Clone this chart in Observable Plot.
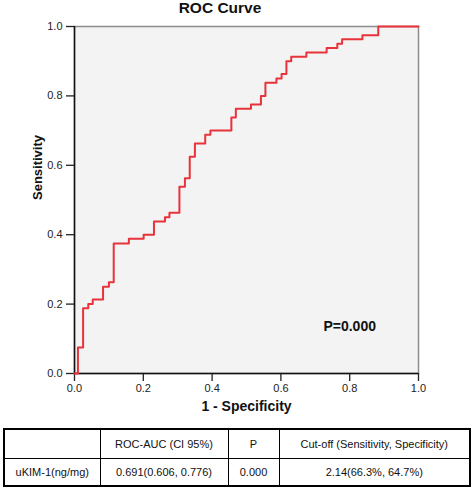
<!DOCTYPE html>
<html><head><meta charset="utf-8">
<script src="https://cdn.jsdelivr.net/npm/d3@7"></script>
<script src="https://cdn.jsdelivr.net/npm/@observablehq/plot@0.6"></script>
<style>
body{margin:0;background:#fff;font-family:"Liberation Sans",Arial,sans-serif;position:relative;width:472px;height:491px;overflow:hidden;}
#title{width:440px;height:20px;line-height:16px;text-align:center;font-weight:bold;font-size:15.5px;color:#111;}
#chart svg{display:block;}
table{position:absolute;left:3px;top:428px;border-collapse:collapse;width:466px;font-size:11px;color:#111;table-layout:fixed;border:2px solid #000;}
td{border:1px solid #000;text-align:center;padding:0;white-space:nowrap;}
tr.h td{height:28px;}
tr.r td{height:26px;}
</style></head><body>
<div id="title">ROC Curve</div>
<div id="chart"></div>
<table id="tbl"></table>
<script>
const fpr = [0, 0.010, 0.025, 0.040, 0.053, 0.083, 0.100, 0.114, 0.158, 0.201, 0.231, 0.263, 0.276, 0.305, 0.321, 0.335, 0.350, 0.380, 0.395, 0.456, 0.469, 0.513, 0.542, 0.555, 0.587, 0.602, 0.616, 0.630, 0.674, 0.733, 0.764, 0.778, 0.837, 0.883, 1.0];
const tpr = [0, 0.075, 0.188, 0.200, 0.213, 0.250, 0.263, 0.375, 0.388, 0.400, 0.438, 0.450, 0.463, 0.538, 0.563, 0.625, 0.663, 0.688, 0.700, 0.738, 0.763, 0.775, 0.800, 0.838, 0.850, 0.863, 0.900, 0.913, 0.925, 0.938, 0.950, 0.963, 0.975, 1.0, 1.0];
const xTicks = [0, 0.2, 0.4, 0.6, 0.8, 1.0];
const yTicks = [0, 0.2, 0.4, 0.6, 0.8, 1.0];
const xTitle = "1 - Specificity";
const yTitle = "Sensitivity";
const pText = "P=0.000";
const tableHeader = ["", "ROC-AUC (CI 95%)", "P", "Cut-off (Sensitivity, Specificity)"];
const tableRow = ["uKIM-1(ng/mg)", "0.691(0.606, 0.776)", "0.000", "2.14(66.3%, 64.7%)"];
const colWidths = [96, 128, 51, 191];

const pts = fpr.map((x, i) => ({fpr: x, tpr: tpr[i]}));
const fmt = d3.format(".1f");

const chart = Plot.plot({
  width: 472, height: 404,
  marginTop: 6, marginLeft: 74, marginRight: 54, marginBottom: 51,
  x: {domain: [0, 1]},
  y: {domain: [0, 1]},
  style: {fontFamily: "'Liberation Sans', Arial, sans-serif", fontSize: "11px", color: "#222", background: "transparent"},
  marks: [
    Plot.frame({fill: "#f3f3f3", stroke: "#8c8c8c", strokeWidth: 1.5}),
    Plot.axisX({ticks: xTicks, tickSize: 8, tickPadding: 3, tickFormat: fmt, label: null, strokeWidth: 1.3}),
    Plot.axisY({ticks: yTicks, tickSize: 8, tickPadding: 4, tickFormat: fmt, label: null, strokeWidth: 1.3}),
    Plot.ruleX([0], {stroke: "#111", strokeWidth: 1.5}),
    Plot.ruleY([0], {stroke: "#111", strokeWidth: 1.5}),
    Plot.line(pts, {x: "fpr", y: "tpr", curve: "step-after", stroke: "#e8333b", strokeWidth: 2}),
    Plot.text([pText], {x: () => 0.8, y: () => 0.135, text: d => d, fontWeight: "bold", fontSize: 14, fill: "#111"}),
    Plot.text([xTitle], {frameAnchor: "bottom", dy: 37, text: d => d, fontWeight: "bold", fontSize: 14, fill: "#111"}),
    Plot.text([yTitle], {frameAnchor: "left", dx: -37, rotate: -90, text: d => d, fontWeight: "bold", fontSize: 13, fill: "#111"})
  ]
});
document.getElementById("chart").appendChild(chart);

const tbl = document.getElementById("tbl");
const cg = document.createElement("colgroup");
colWidths.forEach(w => { const c = document.createElement("col"); c.style.width = w + "px"; cg.appendChild(c); });
tbl.appendChild(cg);
[[tableHeader, "h"], [tableRow, "r"]].forEach(([row, cls]) => {
  const tr = document.createElement("tr");
  tr.className = cls;
  row.forEach(t => { const td = document.createElement("td"); td.textContent = t; tr.appendChild(td); });
  tbl.appendChild(tr);
});
</script>
</body></html>
